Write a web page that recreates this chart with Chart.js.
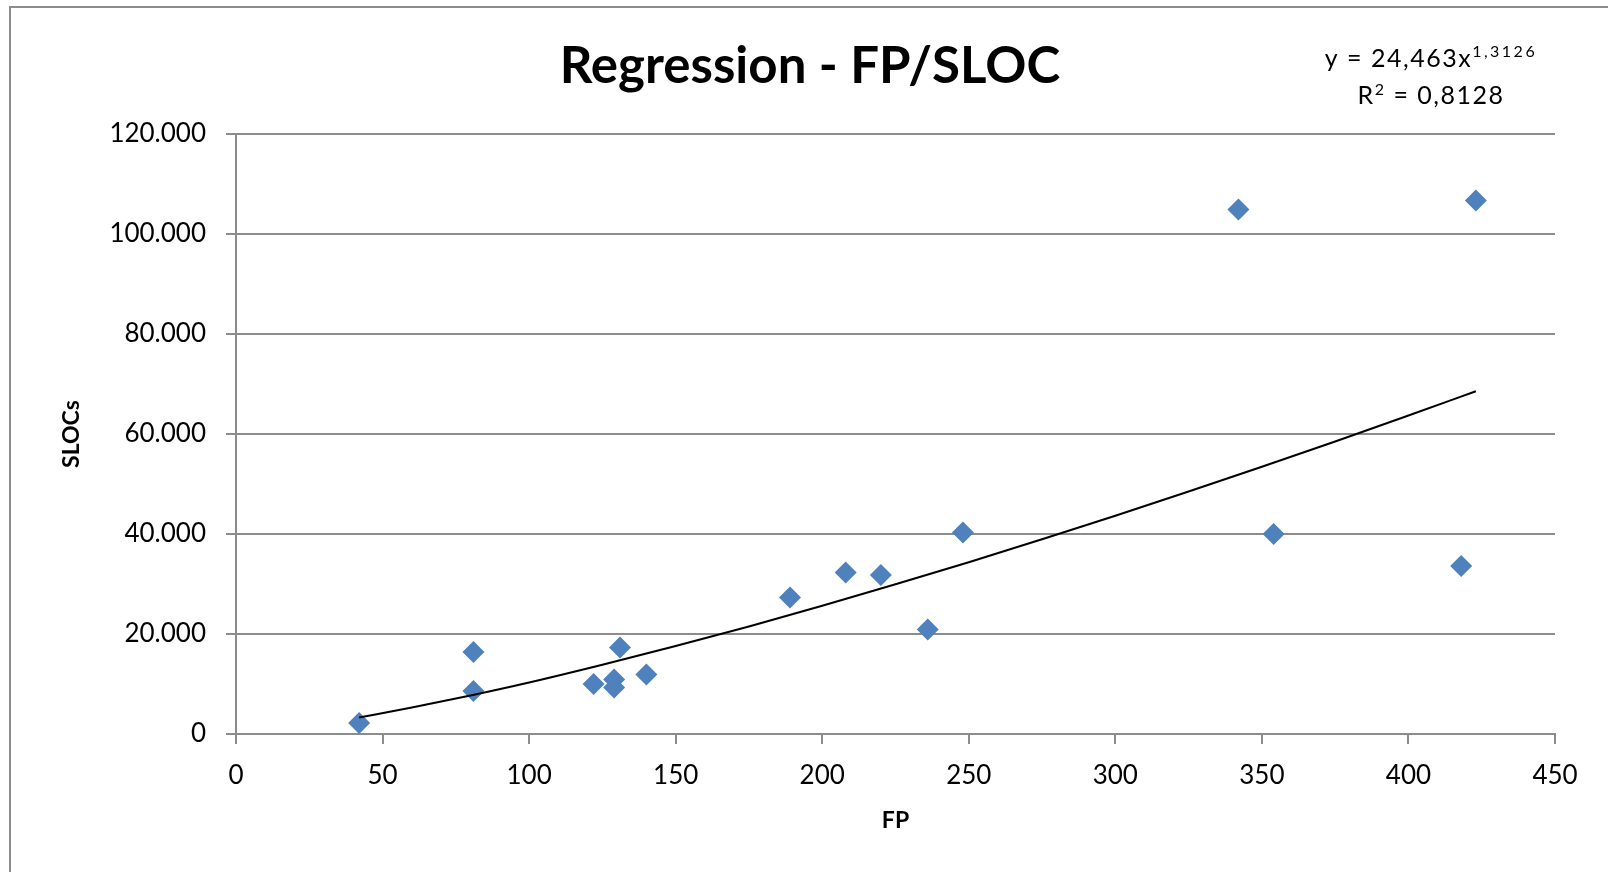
<!DOCTYPE html>
<html><head><meta charset="utf-8">
<script src="https://cdn.jsdelivr.net/npm/chart.js@4/dist/chart.umd.min.js"></script>
<style>html,body{margin:0;padding:0;background:#fff;}canvas{display:block;}</style>
</head><body>
<canvas id="c" width="1608" height="872"></canvas>
<script>
// ---- data ----
const fpValues   = [42, 81, 81, 122, 129, 129, 131, 140, 189, 208, 220, 236, 248, 342, 354, 418, 423];
const slocValues = [2200, 16400, 8600, 10000, 10900, 9300, 17300, 11900, 27300, 32300, 31800, 20900, 40300, 104900, 40000, 33600, 106700];
// trend line points
const trendFp   = [42, 60, 80, 100, 125, 150, 175, 200, 225, 250, 275, 300, 325, 350, 375, 400, 423];
const trendSloc = [3300, 5300, 7700, 10300, 13850, 17600, 21500, 25650, 29950, 34350, 38950, 43650, 48500, 53450, 58500, 63700, 68550];
const xTickLabels = ['0', '50', '100', '150', '200', '250', '300', '350', '400', '450'];
const yTickLabels = ['0', '20.000', '40.000', '60.000', '80.000', '100.000', '120.000'];
const chartTitle = 'Regression - FP/SLOC';
const xAxisTitle = 'FP';
const yAxisTitle = 'SLOCs';
const eqMain = 'y = 24,463x';
const eqExp = '1,3126';
const r2Base = 'R';
const r2Sup = '2';
const r2Rest = ' = 0,8128';

const FONT = 'Lato, "Open Sans", sans-serif';
const scatterPts = fpValues.map((x, i) => ({x: x, y: slocValues[i]}));
const trendPts = trendFp.map((x, i) => ({x: x, y: trendSloc[i]}));

const decor = {
  id: 'decor',
  beforeDraw(chart) {
    const ctx = chart.ctx;
    ctx.save();
    ctx.fillStyle = '#fff';
    ctx.fillRect(0, 0, chart.width, chart.height);
    ctx.strokeStyle = '#8c8c8c';
    ctx.lineWidth = 2;
    ctx.beginPath();
    ctx.moveTo(10, chart.height + 5);
    ctx.lineTo(10, 7);
    ctx.lineTo(chart.width + 5, 7);
    ctx.stroke();
    ctx.restore();
  },
  afterDraw(chart) {
    const ctx = chart.ctx;
    ctx.save();
    ctx.fillStyle = '#000';
    ctx.textBaseline = 'alphabetic';
    // title
    ctx.font = 'bold 51px ' + FONT;
    ctx.textAlign = 'center';
    ctx.fillText(chartTitle, 810, 83);
    // equation
    ctx.textAlign = 'left';
    const mainFont = '25px ' + FONT;
    const supFont = '16px ' + FONT;
    ctx.letterSpacing = '1.5px';
    ctx.font = mainFont;
    const w1 = ctx.measureText(eqMain).width;
    ctx.letterSpacing = '2.5px';
    ctx.font = supFont;
    const w2 = ctx.measureText(eqExp).width;
    let x0 = 1431 - (w1 + w2) / 2;
    ctx.letterSpacing = '1.5px';
    ctx.font = mainFont;
    ctx.fillText(eqMain, x0, 67);
    ctx.letterSpacing = '2.5px';
    ctx.font = supFont;
    ctx.fillText(eqExp, x0 + w1, 57);
    // R^2 line
    ctx.letterSpacing = '1.5px';
    ctx.font = mainFont;
    const a = ctx.measureText(r2Base).width;
    const c = ctx.measureText(r2Rest).width;
    ctx.font = supFont;
    const b = ctx.measureText(r2Sup).width;
    x0 = 1431 - (a + b + c) / 2;
    ctx.font = mainFont;
    ctx.fillText(r2Base, x0, 104);
    ctx.font = supFont;
    ctx.fillText(r2Sup, x0 + a, 95);
    ctx.font = mainFont;
    ctx.fillText(r2Rest, x0 + a + b, 104);
    ctx.restore();
  }
};

new Chart(document.getElementById('c'), {
  type: 'scatter',
  data: {
    datasets: [
      {
        type: 'line',
        data: trendPts,
        borderColor: '#000',
        borderWidth: 2,
        pointRadius: 0,
        fill: false,
        tension: 0.4,
        cubicInterpolationMode: 'monotone',
        order: 0
      },
      {
        data: scatterPts,
        pointStyle: 'rectRot',
        pointRadius: 11,
        backgroundColor: '#4f81bd',
        borderColor: '#4f81bd',
        borderWidth: 0,
        order: 1
      }
    ]
  },
  options: {
    responsive: false,
    animation: false,
    devicePixelRatio: 1,
    layout: {padding: {left: 12, right: 53, top: 134, bottom: 0}},
    plugins: {legend: {display: false}, tooltip: {enabled: false}, title: {display: false}},
    scales: {
      x: {
        type: 'linear', min: 0, max: 450,
        afterFit(s) { s.height = 138; },
        ticks: {stepSize: 50, color: '#000', padding: 16, font: {family: FONT, size: 26},
          callback: (v) => xTickLabels[Math.round(v / 50)]},
        grid: {drawOnChartArea: false, drawTicks: true, tickLength: 10, color: '#8c8c8c', lineWidth: 2},
        border: {color: '#8c8c8c', width: 2},
        title: {display: true, text: xAxisTitle, color: '#000', font: {family: FONT, size: 23, weight: 'bold'}, padding: {top: 0, bottom: 38}}
      },
      y: {
        type: 'linear', min: 0, max: 120000,
        afterFit(s) { s.width = 224; },
        ticks: {stepSize: 20000, color: '#000', padding: 20, font: {family: FONT, size: 26},
          callback: (v) => yTickLabels[Math.round(v / 20000)]},
        grid: {drawOnChartArea: true, drawTicks: true, tickLength: 10, color: '#8c8c8c', lineWidth: 2},
        border: {color: '#8c8c8c', width: 2},
        title: {display: true, text: yAxisTitle, color: '#000', font: {family: FONT, size: 23, weight: 'bold'}, padding: {top: 46, bottom: 0}}
      }
    }
  },
  plugins: [decor]
});
</script>
</body></html>
